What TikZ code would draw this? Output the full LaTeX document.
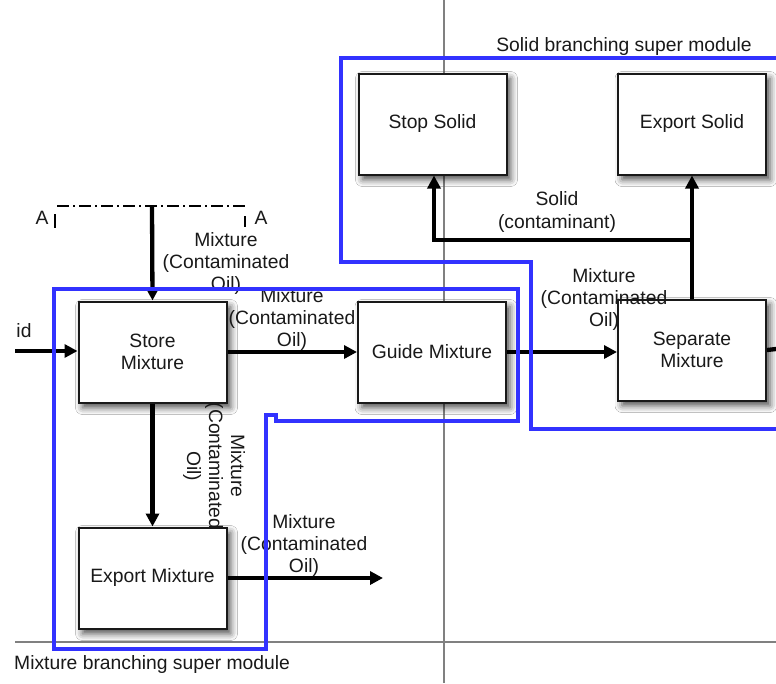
\documentclass[tikz,border=0pt]{standalone}
\usepackage{fontspec}
\setmainfont{Liberation Sans}
\usetikzlibrary{arrows.meta,shadows.blur}

\definecolor{modblue}{RGB}{50,50,255}
\definecolor{ink}{RGB}{25,25,25}

\begin{document}
\begin{tikzpicture}[x=1pt,y=-1pt,
  font=\fontsize{19.3}{22}\selectfont,
  every node/.style={text=ink},
  block/.style={draw=ink, line width=2pt, fill=white,
    minimum width=148pt, minimum height=101pt, align=center, inner sep=0pt,
    blur shadow={shadow xshift=4pt, shadow yshift=-5pt,
      shadow blur radius=7pt, shadow opacity=70}},
  flow/.style={draw=black, line width=4.3pt, -{Triangle[length=13pt,width=13pt]}},
  plainflow/.style={draw=black, line width=4.3pt},
  lbl/.style={align=center, inner sep=0pt},
  module/.style={draw=modblue, line width=3.2pt, line join=miter},
  guideline/.style={draw=gray, line width=1.3pt},
  cutline/.style={draw=black, line width=1.5pt, dash pattern=on 12pt off 4pt on 2pt off 4pt}]

\useasboundingbox (0,0) rectangle (776,683);
\fill[white] (0,0) rectangle (776,683);

% page guide lines
\draw[guideline] (444,0) -- (444,683);
\draw[guideline] (15,642) -- (776,642);

% function blocks
\node[block] (stop)   at (432.5,124) {Stop Solid};
\node[block] (expsol) at (692,124)   {Export Solid};
\node[block] (store)  at (152.5,352) {Store\\Mixture};
\node[block] (guide)  at (432,352)   {Guide Mixture};
\node[block] (sep)    at (692,350)   {Separate\\Mixture};
\node[block] (expmix) at (152.5,578) {Export Mixture};

% section cut A--A
\draw[cutline] (57,206) -- (247,206);
\draw[line width=1.2pt] (55,214) -- (55,228);
\draw[line width=1.2pt] (245,216) -- (245,227);
\node[lbl] (aleft)  at (42,218)  {A};
\node[lbl] (aright) at (261,218) {A};

% free ends of connectors
\coordinate (liqin)  at (15,351);
\coordinate (topin)  at (152,206);
\coordinate (sepout) at (776,349);
\coordinate (mixout) at (383,578);
\coordinate (split)  at (692,240);

% connectors
\draw[flow] (liqin) -- (store.west |- liqin);
\draw[flow] (topin) -- (store.north);
\draw[flow] (store.east) -- (guide.west);
\draw[flow] (guide.east) -- (sep.west |- guide.east);
\draw[plainflow] (sep.east) -- (sepout);
\draw[flow] (store.south) -- (expmix.north);
\draw[flow] (expmix.east) -- (mixout);
\draw[flow] (sep.north) -- (expsol.south);
\draw[flow, line join=miter] (split) -| ([xshift=1.5pt]stop.south);

% connector labels
\node[lbl] (lid)    at (24,331)  {id};
\node[lbl] (ltop)   at (226,263) {Mixture\\(Contaminated\\Oil)};
\node[lbl] (lsg)    at (292,319) {Mixture\\(Contaminated\\Oil)};
\node[lbl] (lgs)    at (604,299) {Mixture\\(Contaminated\\Oil)};
\node[lbl] (lout)   at (304,545) {Mixture\\(Contaminated\\Oil)};
\node[lbl, rotate=-90] (ldown) at (214,466) {Mixture\\(Contaminated\\Oil)};
\node[lbl] (lsolid) at (557,212) {Solid\\(contaminant)};

% super module boundaries
\draw[module] (776,58) -- (341,58) -- (341,262) -- (531,262) -- (531,429) -- (776,429);
\draw[module] (54,289) -- (518,289) -- (518,421) -- (276,421) -- (276,415)
  -- (266,415) -- (266,649) -- (54,649) -- cycle;

\node[lbl] (solidmod) at (624,47) {Solid branching super module};
\node[lbl, anchor=west] (mixmod) at (14,664) {Mixture branching super module};
\end{tikzpicture}
\end{document}
